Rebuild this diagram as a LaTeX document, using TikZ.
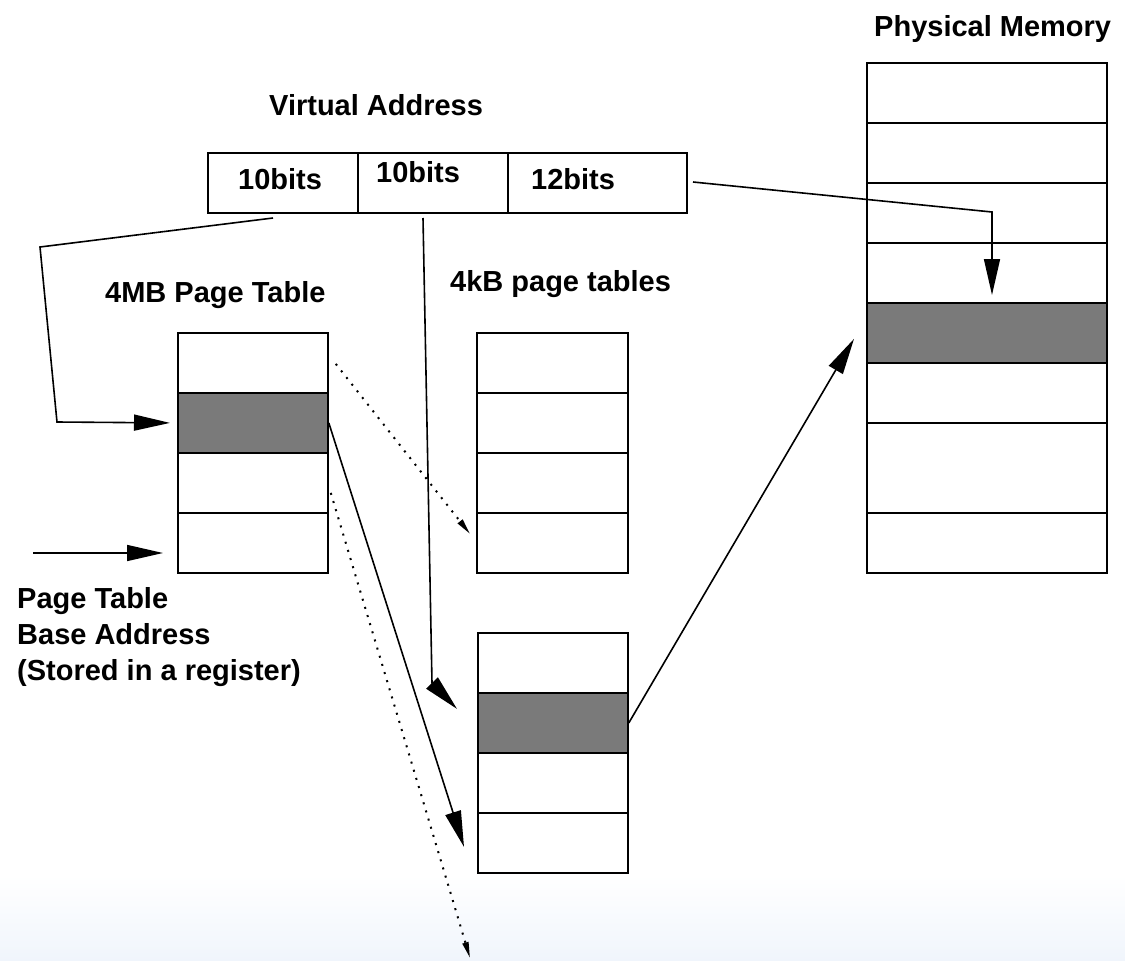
\documentclass[tikz,border=0pt]{standalone}
\usepackage{fontspec}
\setmainfont{Liberation Sans}
\usetikzlibrary{arrows.meta,calc}
\definecolor{cellgray}{RGB}{122,122,122}
\definecolor{fadeblue}{RGB}{240,245,252}
\begin{document}
\begin{tikzpicture}[x=1pt,y=-1pt,
  lbl/.style={font=\fontsize{29}{35}\selectfont\bfseries, inner sep=0pt, anchor=base west},
  cell/.style={draw=black, line width=1.8pt, fill=white, minimum width=#1, minimum height=60pt, inner sep=0pt, anchor=north west},
  hcell/.style={cell=#1, fill=cellgray},
  arr/.style={line width=1.6pt, -{Triangle[length=36pt,width=16pt]}},
  darr/.style={line width=2pt, dash pattern=on 2pt off 6.5pt, -{Triangle[length=16pt,width=6pt]}}
]
\useasboundingbox (0,0) rectangle (1125,961);
\shade[top color=white, bottom color=fadeblue] (0,875) rectangle (1125,961);

% labels
\node[lbl] (tpm) at (874,36) {Physical Memory};
\node[lbl] (tva) at (269,115) {Virtual Address};
\node[lbl] (t4m) at (105,302) {4MB Page Table};
\node[lbl] (t4k) at (450,291) {4kB page tables};
\node[lbl, align=left, anchor=north west, font=\fontsize{29}{36}\selectfont\bfseries] (tbase) at (17,587) {Page Table\\Base Address\\(Stored in a register)};

% virtual address
\node[cell=150pt] (va1) at (207,152) {};
\node[cell=150pt] (va2) at (357,152) {};
\node[cell=179pt] (va3) at (507,152) {};
\node[lbl] (va1t) at (238,189) {10bits};
\node[lbl] (va2t) at (376,182) {10bits};
\node[lbl] (va3t) at (531,189) {12bits};

% 4MB page table
\node[cell=150pt] (pt1) at (177,332) {};
\node[hcell=150pt] (pt2) at (177,392) {};
\node[cell=150pt] (pt3) at (177,452) {};
\node[cell=150pt] (pt4) at (177,512) {};

% 4kB page table 1
\node[cell=151pt] (t1r1) at (476,332) {};
\node[cell=151pt] (t1r2) at (476,392) {};
\node[cell=151pt] (t1r3) at (476,452) {};
\node[cell=151pt] (t1r4) at (476,512) {};

% 4kB page table 2
\node[cell=150pt] (t2r1) at (477,632) {};
\node[hcell=150pt] (t2r2) at (477,692) {};
\node[cell=150pt] (t2r3) at (477,752) {};
\node[cell=150pt] (t2r4) at (477,812) {};

% physical memory
\node[cell=240pt] (p1) at (866,62) {};
\node[cell=240pt] (p2) at (866,122) {};
\node[cell=240pt] (p3) at (866,182) {};
\node[cell=240pt] (p4) at (866,242) {};
\node[hcell=240pt] (p5) at (866,302) {};
\node[cell=240pt] (p6) at (866,362) {};
\node[cell=240pt, minimum height=90pt] (p7) at (866,422) {};
\node[cell=240pt] (p8) at (866,512) {};

% connectors
\coordinate (c1s) at (273,218);
\coordinate (c1a) at (40,247);
\coordinate (c1b) at (57,422);
\draw[arr] (c1s) -- (c1a) -- (c1b) -- ($(pt2.west)+(-7,0)$);

\coordinate (b0) at (33,553);
\draw[arr] (b0) -- ($(pt4.west |- b0)+(-14,0)$);

\coordinate (c3s) at (423,218);
\coordinate (c3a) at (432,683);
\draw[arr] (c3s) -- (c3a) -- ($(t2r2.west)+(-20,-14)$);

\draw[arr] (pt2.east) -- ($(t2r4.west)+(-13,4)$);

\draw[darr] ($(pt1.east)+(7,1)$) -- ($(t1r4.west)+(-6,-9)$);

\coordinate (d2e) at (470,958);
\draw[darr] ($(pt3.east)+(2,10)$) -- (d2e);

\draw[arr] (t2r2.east) -- ($(p5.west)+(-12,6)$);

\coordinate (c8s) at (693,182);
\coordinate (c8a) at (992,212);
\draw[arr] (c8s) -- (c8a) -- ($(p5.north -| c8a)+(0,-7)$);
\end{tikzpicture}
\end{document}
